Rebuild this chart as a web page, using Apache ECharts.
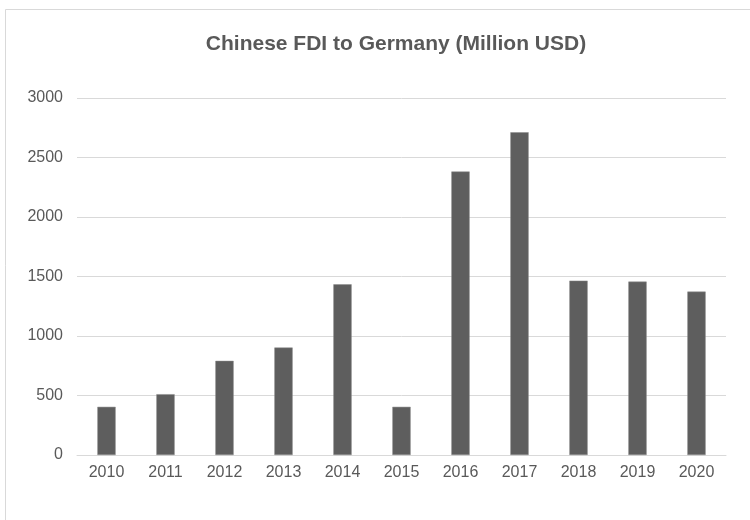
<!DOCTYPE html>
<html><head><meta charset="utf-8">
<script src="https://cdn.jsdelivr.net/npm/echarts@6/dist/echarts.min.js"></script>
<style>html,body{margin:0;padding:0;background:#fff}#c{width:750px;height:520px}</style>
</head><body><div id="c"></div>
<script>
const titleText = 'Chinese FDI to Germany (Million USD)';
const years = ['2010','2011','2012','2013','2014','2015','2016','2017','2018','2019','2020'];
const fdi = [405, 511, 791, 903, 1434, 405, 2382, 2712, 1465, 1457, 1373];
const yTicks = [0, 500, 1000, 1500, 2000, 2500, 3000];

const chart = echarts.init(document.getElementById('c'), null, {renderer:'canvas'});
chart.setOption({
  animation: false,
  backgroundColor: '#fff',
  graphic: [{type:'rect', shape:{x:5.5, y:9.5, width:800, height:600}, style:{fill:'none', stroke:'#d9d9d9', lineWidth:1}, silent:true, z:-1}],
  title: {text: titleText, left: 391, top: 29, textAlign: 'center',
    textStyle: {fontFamily: 'Liberation Sans', fontWeight: 'bold', fontSize: 21, color: '#595959'}},
  grid: {left: 77, right: 24, top: 98, bottom: 65, containLabel: false},
  xAxis: {type: 'category', data: years,
    axisLine: {lineStyle: {color: '#d9d9d9', width: 1}},
    axisTick: {show: false},
    axisLabel: {fontFamily: 'Liberation Sans', fontSize: 16, color: '#595959', margin: 10}},
  yAxis: {type: 'value', min: yTicks[0], max: yTicks[yTicks.length-1], interval: 500,
    axisLine: {show: false}, axisTick: {show: false},
    splitLine: {lineStyle: {color: '#d9d9d9', width: 1}},
    axisLabel: {fontFamily: 'Liberation Sans', fontSize: 16, color: '#595959', margin: 14,
      formatter: v => String(v)}},
  series: [{type: 'bar', data: fdi, barWidth: '31%',
    itemStyle: {color: '#5e5e5e', borderColor: '#8a8a8a', borderWidth: 0.5}}]
});
</script></body></html>
